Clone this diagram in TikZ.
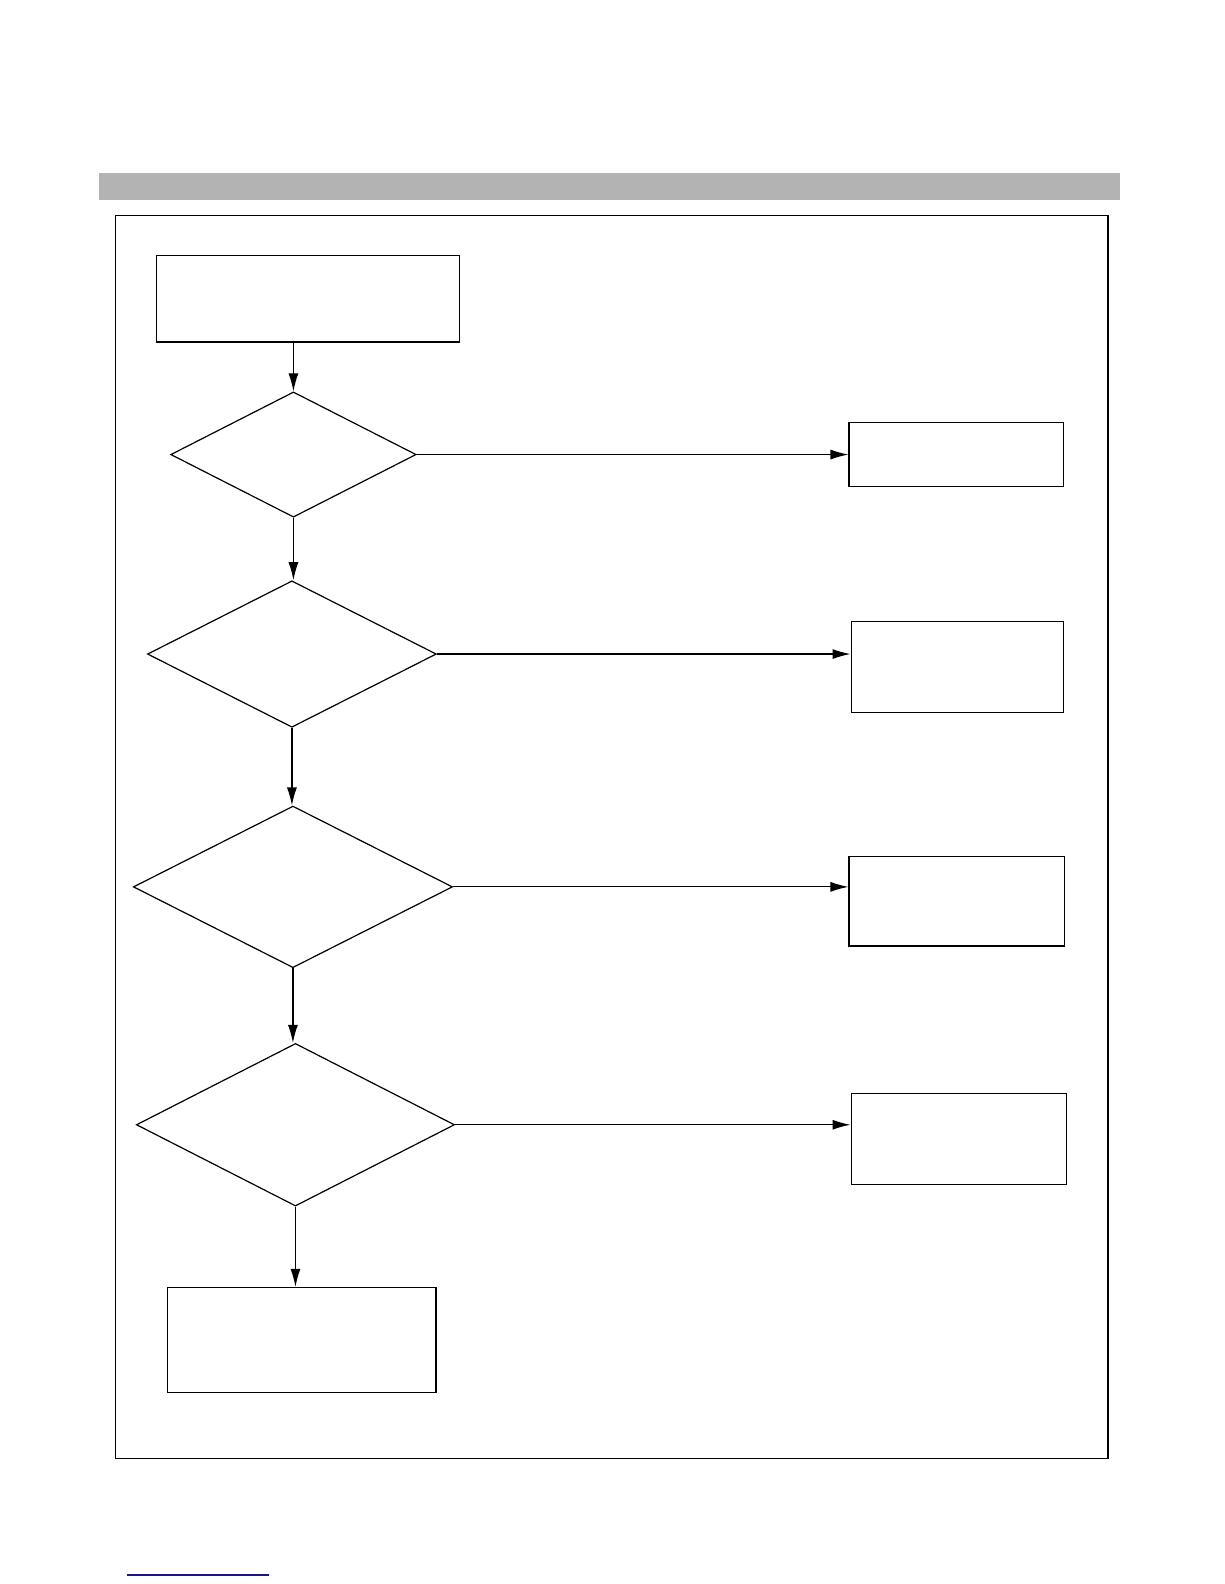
\documentclass[tikz,border=0pt]{standalone}
\usetikzlibrary{shapes.geometric,arrows.meta}
\def\k{1.0101}
\begin{document}
\begin{tikzpicture}[x=\k bp,y=-\k bp,
  box/.style={draw,line width=1.2bp,rectangle,inner sep=0pt,anchor=north west},
  dec/.style={draw,line width=1.2bp,diamond,inner sep=0pt,aspect=2},
  conn/.style={line width=1.2bp,-{Latex[length=18bp,width=10bp]}}]
\useasboundingbox (0,0) rectangle (1211.76,1568.16);
\fill[fill={rgb,255:red,179;green,179;blue,179}] (98,171) rectangle (1109,198);
\draw[line width=1.2bp] (114,213) rectangle (1097,1444);
\node[box,minimum width=300*\k bp,minimum height=86*\k bp] (start) at (154,252) {};
\node[dec,minimum width=243*\k bp,minimum height=124*\k bp] (d1) at (290.5,450) {};
\node[dec,minimum width=286*\k bp,minimum height=145*\k bp] (d2) at (289,647.5) {};
\node[dec,minimum width=316*\k bp,minimum height=160*\k bp] (d3) at (290,878) {};
\node[dec,minimum width=315*\k bp,minimum height=161*\k bp] (d4) at (292.5,1113.5) {};
\node[box,minimum width=212*\k bp,minimum height=63*\k bp] (r1) at (840,418) {};
\node[box,minimum width=210*\k bp,minimum height=90*\k bp] (r2) at (842,615) {};
\node[box,minimum width=213*\k bp,minimum height=89*\k bp] (r3) at (840,847) {};
\node[box,minimum width=213*\k bp,minimum height=90*\k bp] (r4) at (842,1082) {};
\node[box,minimum width=266*\k bp,minimum height=104*\k bp] (fin) at (165,1274) {};
\draw[conn] (start.south -| d1.north) -- (d1.north);
\draw[conn] (d1.south) -- (d1.south |- d2.north);
\draw[conn] (d2.south) -- (d2.south |- d3.north);
\draw[conn] (d3.south) -- (d3.south |- d4.north);
\draw[conn] (d4.south) -- (d4.south |- fin.north);
\draw[conn] (d1.east) -- (d1.east -| r1.west);
\draw[conn] (d2.east) -- (d2.east -| r2.west);
\draw[conn] (d3.east) -- (d3.east -| r3.west);
\draw[conn] (d4.east) -- (d4.east -| r4.west);
\coordinate (ul1) at (125.7,1559.2);
\coordinate (ul2) at (266.3,1559.2);
\draw[line width=1.2bp,color={rgb,255:red,20;green,20;blue,140}] (ul1) -- (ul2);
\end{tikzpicture}
\end{document}
